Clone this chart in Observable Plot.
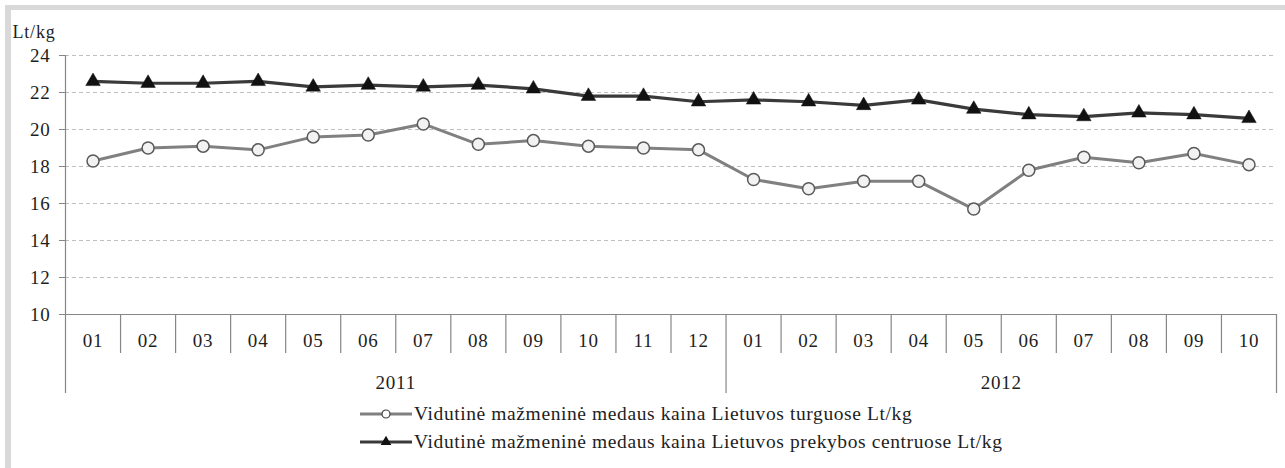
<!DOCTYPE html>
<html><head><meta charset="utf-8">
<script src="https://cdn.jsdelivr.net/npm/d3@7"></script>
<script src="https://cdn.jsdelivr.net/npm/@observablehq/plot@0.6"></script>
<style>
html,body{margin:0;background:#fff;overflow:hidden;}
body{font-family:'Liberation Serif',serif;color:#1e1e1e;width:1285px;height:468px;}
#frame{position:absolute;left:5px;top:5px;width:1280px;height:463px;border-top:5px solid #d9d9d9;border-left:6px solid #d9d9d9;box-sizing:border-box;pointer-events:none;z-index:2}
#chart{position:relative;width:1285px;height:400px;}
#legend{padding-left:360px;font-size:19.5px;letter-spacing:0.6px;font-family:'Liberation Serif',serif;}
.row{display:flex;align-items:center;height:28px;white-space:nowrap;}
.row svg{display:block;margin-right:1px;}
</style></head><body>
<div id="frame"></div>
<div id="chart"></div>
<div id="legend"></div>
<script>
const months = ["01","02","03","04","05","06","07","08","09","10","11","12","01","02","03","04","05","06","07","08","09","10"];
const years = ["2011","2012"];
const monthsPerYear = [12, 10];
const marketPrice = [18.3,19.0,19.1,18.9,19.6,19.7,20.3,19.2,19.4,19.1,19.0,18.9,17.3,16.8,17.2,17.2,15.7,17.8,18.5,18.2,18.7,18.1];
const mallPrice = [22.6,22.5,22.5,22.6,22.3,22.4,22.3,22.4,22.2,21.8,21.8,21.5,21.6,21.5,21.3,21.6,21.1,20.8,20.7,20.9,20.8,20.6];
const yTicks = [10,12,14,16,18,20,22,24];
const seriesNames = ["Vidutinė mažmeninė medaus kaina Lietuvos turguose Lt/kg","Vidutinė mažmeninė medaus kaina Lietuvos prekybos centruose Lt/kg"];
const unitLabel = "Lt/kg";

const rows = months.map((m, i) => ({i, month: m, market: marketPrice[i], mall: mallPrice[i]}));
let start = 0;
const yearGroups = years.map((y, k) => {
  const g = {year: y, start, end: start + monthsPerYear[k] - 1};
  g.center = (g.start + g.end) / 2;
  start += monthsPerYear[k];
  return g;
});
const yearEnds = yearGroups.map(g => g.end + 0.5);
const monthSeps = rows.map(r => r.i + 0.5).filter(v => !yearEnds.includes(v));

const W = 1285, H = 400, ML = 65, MR = 9, MT = 55, MB = 86;
const frameW = W - ML - MR, frameH = H - MT - MB;
const axisColor = "#868686";
const font = "'Liberation Serif', serif";
const tickFont = 19;

const chart = Plot.plot({
  width: W, height: H,
  marginLeft: ML, marginRight: MR, marginTop: MT, marginBottom: MB,
  style: {background: "transparent", fontFamily: font, fontSize: tickFont + "px", color: "#1e1e1e", letterSpacing: "0.8px"},
  x: {type: "linear", domain: [-0.5, rows.length - 0.5], axis: null},
  y: {domain: [10, 24], axis: null},
  marks: [
    Plot.ruleY(yTicks.filter(d => d > 10), {y: d => d, stroke: "#bfbfbf", strokeDasharray: "4,3", strokeWidth: 1}),
    Plot.ruleY(yTicks, {y: d => d, stroke: axisColor, insetLeft: -6, insetRight: frameW}),
    Plot.ruleY([10], {y: d => d, stroke: axisColor, strokeWidth: 1.2}),
    Plot.ruleX([-0.5], {x: d => d, stroke: axisColor, strokeWidth: 1.2, insetBottom: -79}),
    Plot.ruleX(monthSeps, {x: d => d, stroke: axisColor, strokeWidth: 1.2, insetTop: frameH, insetBottom: -39}),
    Plot.ruleX(yearEnds, {x: d => d, stroke: axisColor, strokeWidth: 1.2, insetTop: frameH, insetBottom: -79}),
    Plot.text(rows, {x: "i", text: "month", frameAnchor: "bottom", lineAnchor: "middle", dy: 26, fontSize: tickFont, fontFamily: font}),
    Plot.text(yearGroups, {x: "center", text: "year", frameAnchor: "bottom", lineAnchor: "middle", dy: 68, fontSize: tickFont, fontFamily: font}),
    Plot.text(yTicks, {y: d => d, text: d => String(d), frameAnchor: "left", lineAnchor: "middle", dx: -15, textAnchor: "end", fontSize: tickFont, fontFamily: font}),
    Plot.text([unitLabel], {text: d => d, frameAnchor: "top-left", lineAnchor: "middle", dx: -53, dy: -23, textAnchor: "start", fontSize: 18, fontFamily: font}),
    Plot.line(rows, {x: "i", y: "market", stroke: "#808080", strokeWidth: 3}),
    Plot.dot(rows, {x: "i", y: "market", r: 6, fill: "#f2f2f2", stroke: "#595959", strokeWidth: 1.5}),
    Plot.line(rows, {x: "i", y: "mall", stroke: "#3a3a3a", strokeWidth: 3.2}),
    Plot.dot(rows, {x: "i", y: "mall", symbol: "triangle", r: 5.4, fill: "#111", stroke: "#111", strokeWidth: 0.5})
  ]
});
document.getElementById("chart").appendChild(chart);

// legend
const legend = document.getElementById("legend");
const symbols = [
  {line: "#808080", sym: "circle"},
  {line: "#3a3a3a", sym: "triangle"}
];
seriesNames.forEach((name, k) => {
  const row = document.createElement("div");
  row.className = "row";
  const s = d3.create("svg").attr("width", 53).attr("height", 20);
  s.append("line").attr("x1", 0).attr("x2", 52).attr("y1", 10).attr("y2", 10).attr("stroke", symbols[k].line).attr("stroke-width", 3);
  if (symbols[k].sym === "circle") {
    s.append("circle").attr("cx", 26).attr("cy", 10).attr("r", 4).attr("fill", "#fff").attr("stroke", "#404040").attr("stroke-width", 1.2);
  } else {
    s.append("path").attr("transform", "translate(26,10)").attr("d", d3.symbol(d3.symbolTriangle, 50)()).attr("fill", "#111");
  }
  row.appendChild(s.node());
  const t = document.createElement("span");
  t.textContent = name;
  row.appendChild(t);
  legend.appendChild(row);
});
</script>
</body></html>
